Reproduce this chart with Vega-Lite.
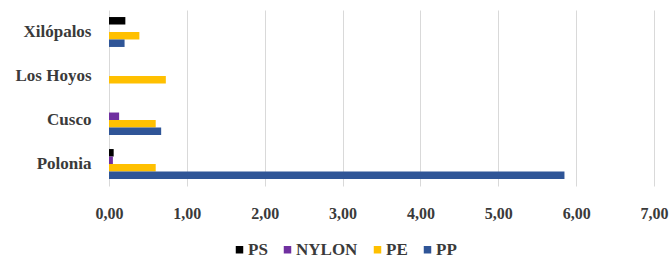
{
  "$schema": "https://vega.github.io/schema/vega-lite/v6.json",
  "autosize": {"type": "none"},
  "padding": {"left": 109, "top": 10, "right": 17, "bottom": 73},
  "width": 545,
  "height": 176,
  "background": "white",
  "data": {"values": [
    {"site": "Xilópalos", "type": "PS", "value": 0.21},
    {"site": "Xilópalos", "type": "PE", "value": 0.39},
    {"site": "Xilópalos", "type": "PP", "value": 0.20},
    {"site": "Los Hoyos", "type": "PE", "value": 0.73},
    {"site": "Cusco", "type": "NYLON", "value": 0.13},
    {"site": "Cusco", "type": "PE", "value": 0.60},
    {"site": "Cusco", "type": "PP", "value": 0.67},
    {"site": "Polonia", "type": "PS", "value": 0.06},
    {"site": "Polonia", "type": "NYLON", "value": 0.05},
    {"site": "Polonia", "type": "PE", "value": 0.60},
    {"site": "Polonia", "type": "PP", "value": 5.85}
  ]},
  "mark": {"type": "bar"},
  "encoding": {
    "y": {
      "field": "site", "type": "nominal",
      "sort": ["Xilópalos", "Los Hoyos", "Cusco", "Polonia"],
      "scale": {"paddingInner": 0.32, "paddingOuter": 0.16},
      "axis": {"title": null, "domain": false, "ticks": false, "labelPadding": 18,
               "labelFont": "Liberation Serif", "labelFontSize": 17, "labelFontWeight": "bold", "labelColor": "#3a3a3a"}
    },
    "yOffset": {
      "field": "type", "type": "nominal",
      "sort": ["PS", "NYLON", "PE", "PP"],
      "scale": {"paddingInner": 0, "paddingOuter": 0}
    },
    "x": {
      "field": "value", "type": "quantitative",
      "scale": {"domain": [0, 7], "nice": false},
      "axis": {"title": null, "domain": false, "ticks": false, "values": [0,1,2,3,4,5,6,7],
               "labelExpr": "replace(format(datum.value, '.2f'), '.', ',')", "labelOverlap": false, "labelFlush": false,
               "labelPadding": 19, "grid": true, "gridColor": "#d9d9d9",
               "labelFont": "Liberation Serif", "labelFontSize": 16, "labelFontWeight": "bold", "labelColor": "#3a3a3a"}
    },
    "color": {
      "field": "type", "type": "nominal",
      "sort": ["PS", "NYLON", "PE", "PP"],
      "scale": {"domain": ["PS", "NYLON", "PE", "PP"], "range": ["#000000", "#7030A0", "#FFC000", "#2F5597"]},
      "legend": {"title": null, "orient": "none", "direction": "horizontal", "legendX": 122, "legendY": 231,
                 "symbolType": "square", "symbolSize": 56, "symbolStrokeWidth": 0, "columnPadding": 11, "labelOffset": 0,
                 "labelFont": "Liberation Serif", "labelFontSize": 17, "labelFontWeight": "bold", "labelColor": "#3a3a3a"}
    }
  },
  "config": {"font": "Liberation Serif", "view": {"stroke": null}, "legend": {"labelFont": "Liberation Serif"}}
}
